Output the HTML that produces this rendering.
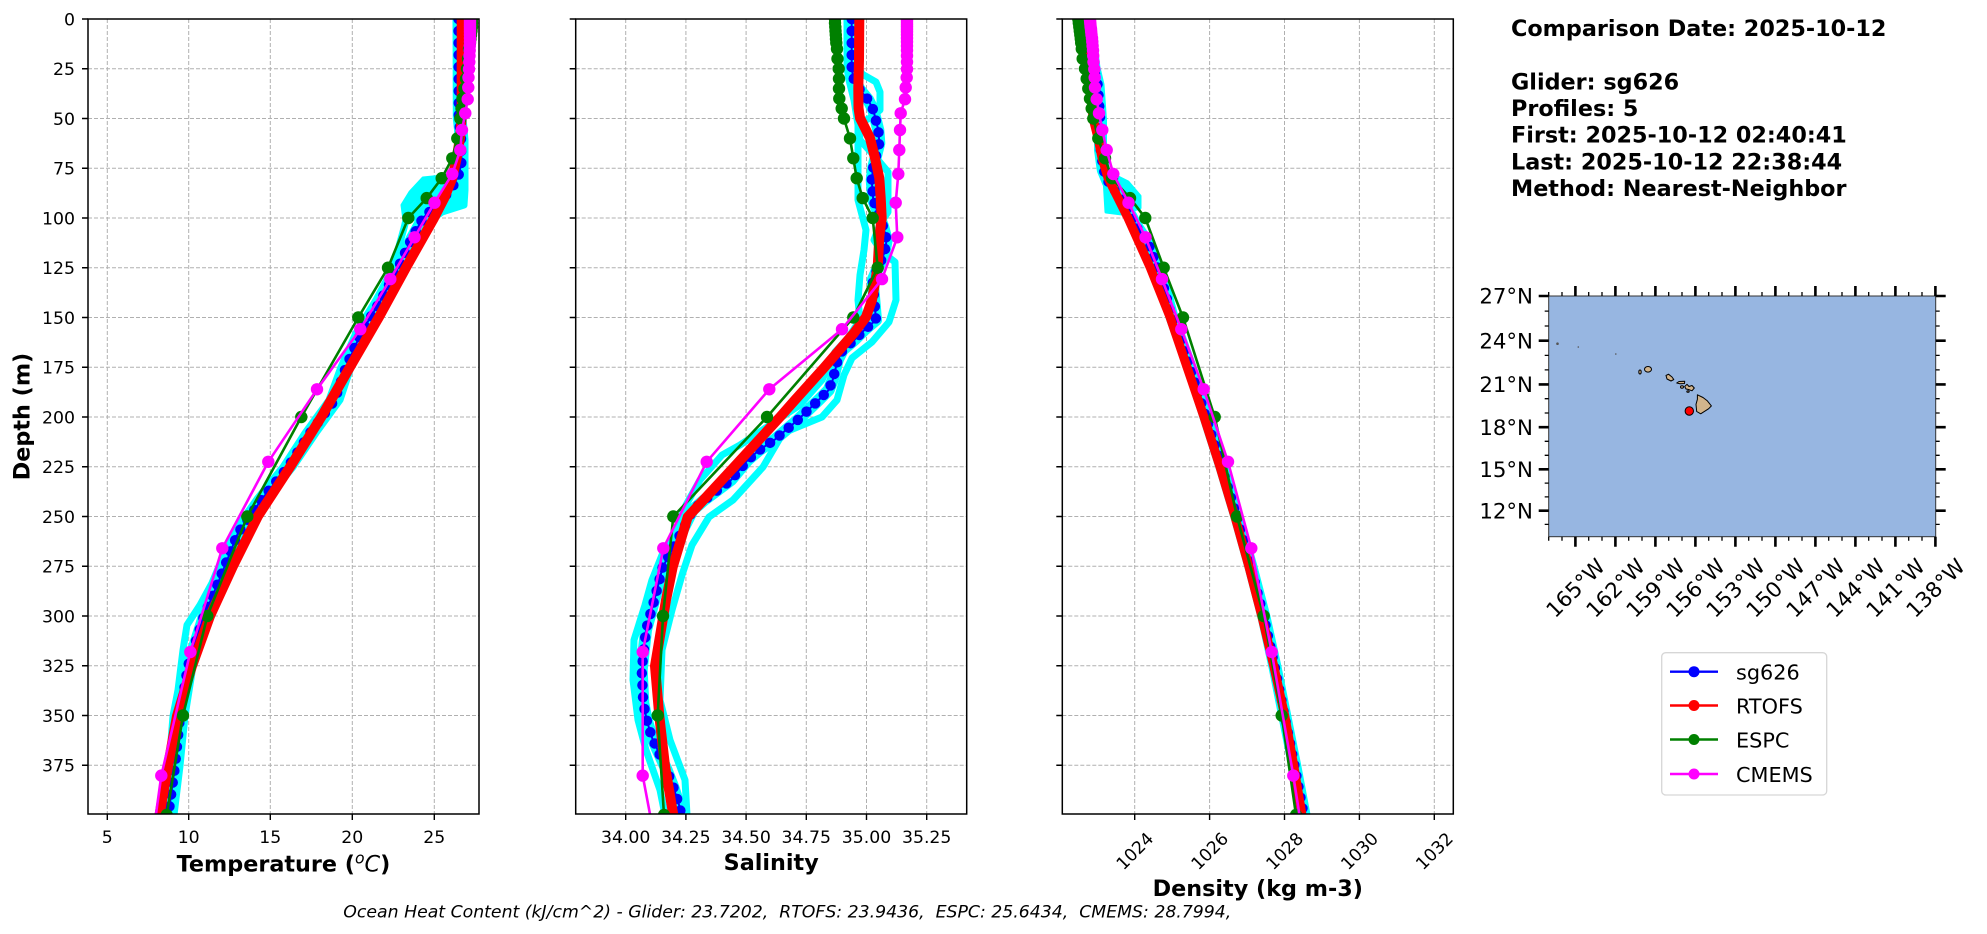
<!DOCTYPE html>
<html><head><meta charset="utf-8"><style>html,body{margin:0;padding:0;background:#fff}svg{display:block}</style></head>
<body>
<svg width="1987" height="934" viewBox="0 0 1987 934" font-family="DejaVu Sans, Liberation Sans, sans-serif">
<rect x="0" y="0" width="1987" height="934" fill="#fff"/>
<defs>
<clipPath id="c1"><rect x="88" y="19" width="391" height="795"/></clipPath>
<clipPath id="c2"><rect x="575.7" y="19" width="391" height="795"/></clipPath>
<clipPath id="c3"><rect x="1062.3" y="19" width="391" height="795"/></clipPath>
<marker id="mg" markerWidth="16" markerHeight="16" refX="8" refY="8" markerUnits="userSpaceOnUse"><circle cx="8" cy="8" r="6.2" fill="#008000"/></marker>
<marker id="mm" markerWidth="16" markerHeight="16" refX="8" refY="8" markerUnits="userSpaceOnUse"><circle cx="8" cy="8" r="6.2" fill="#ff00ff"/></marker>
<path id="hg" d="M0 68.75H391M0 118.5H391M0 168.25H391M0 218H391M0 267.75H391M0 317.5H391M0 367.25H391M0 417H391M0 466.75H391M0 516.5H391M0 566.25H391M0 616H391M0 665.75H391M0 715.5H391M0 765.25H391" stroke="#b0b0b0" stroke-width="1" stroke-dasharray="4,2" fill="none"/>
<path id="yt" d="M0 19H-6M0 68.75H-6M0 118.5H-6M0 168.25H-6M0 218H-6M0 267.75H-6M0 317.5H-6M0 367.25H-6M0 417H-6M0 466.75H-6M0 516.5H-6M0 566.25H-6M0 616H-6M0 665.75H-6M0 715.5H-6M0 765.25H-6" stroke="#000" stroke-width="1.4" fill="none"/>
</defs>

<!-- ===== Panel 1: Temperature ===== -->
<use href="#hg" x="88"/>
<path d="M107.3 19V814M188.7 19V814M270.3 19V814M352.3 19V814M434.3 19V814" stroke="#b0b0b0" stroke-width="1" stroke-dasharray="4,2" fill="none"/>
<g clip-path="url(#c1)" fill="none" stroke-linecap="round" stroke-linejoin="round">
<polygon points="423,178 462,174 466,178 466,205 446,211 436,218 404,220 402,205 410,192" fill="#00ffff" stroke="#00ffff" stroke-width="3"/>
<polyline points="458.5,19 458.8,118.5 461,138.4 461.5,162 459,174 452,188 440,202 423,218 412,238 398,268 381,300 361,333 346,367 334.7,400 310,433 288,467 262,499 238,533 218,583 204,616 188,666 180,716 175,766 168.3,815" stroke="#00ffff" stroke-width="12"/>
<polyline points="463,19 463,118 465,140 465,165 465,190 464,205 442,212 428,222 417,238 403,268 386,300 366,333 351,367 340,400 316,433 293,467 267,499 243,533 223,583 209,616 193,666 185,716 180,766 174,815" stroke="#00ffff" stroke-width="7"/>
<polyline points="457,19 457,118 458,140 457,160 450,176 436,190 420,200 408,212 404,228 393,268 376,300 356,333 341,367 329,400 305,433 283,467 257,499 233,533 212,583 200,605 187,625 183,650 178,690 173,716 169,766 163,815" stroke="#00ffff" stroke-width="7"/>
<polyline points="458.5,19 458.8,118.5 461,138.4 461.5,162 459,174 452,188 440,202 423,218 412,238 398,268 381,300 361,333 346,367 334.7,400 310,433 288,467 262,499 238,533 218,583 204,616 188,666 180,716 175,766 168.3,815" stroke="#0000ff" stroke-width="2"/>
<polyline points="458.5,19 458.8,118.5 461,138.4 461.5,162 459,174 452,188 440,202 423,218 412,238 398,268 381,300 361,333 346,367 334.7,400 310,433 288,467 262,499 238,533 218,583 204,616 188,666 180,716 175,766 168.3,815" stroke="#0000ff" stroke-width="10.5" stroke-dasharray="0 12"/>
<polyline points="461.7,19 461.7,118 460,138 456.7,158 452.3,178 444.3,198 434,218 406.3,267 379,317 350,367 321.3,417 290,467 258,516 233,566 210,616 192,666 177,716 168,766 159.5,815" stroke="#ff0000" stroke-width="10"/>
<polyline points="472,19 472,23 472,26.96 471.5,30.94 471,34.92 470.5,38.9 470,42.88 469,48.85 468,58.8 467,68.75 466,78.7 464.5,88.65 462.5,98.6 461.5,108.55 460.3,118.5 457.3,138.4 452.3,158.3 441.7,178.2 426.7,198.1 408.3,218 388,267.75 358.3,317.5 301.3,417 247.3,516.5 207.3,616 183,715.5 166.7,815" stroke="#008000" stroke-width="2.6" marker-start="url(#mg)" marker-mid="url(#mg)" marker-end="url(#mg)"/>
<polyline points="470,20 470,22 470,24.2 470,26.6 470,29.1 470,31.7 470,34.7 470,38.1 470,41.7 469.8,45.9 469.7,50.4 469.5,55.8 469.3,62 469,69.1 468.5,77.5 468.3,87.5 467.7,99.2 465.3,113.3 462,130 460.3,150 452.3,174 434.5,202.7 414.5,237.3 390.3,279.1 360.3,329.2 317,389.3 268.3,461.8 222.3,548.3 190.3,652 161.3,775.6 153.8,830" stroke="#ff00ff" stroke-width="2.6" marker-start="url(#mm)" marker-mid="url(#mm)" marker-end="url(#mm)"/>
</g>
<rect x="88" y="19" width="391" height="795" fill="none" stroke="#000" stroke-width="1.5"/>
<use href="#yt" x="88"/>
<path d="M107.3 814V820M188.7 814V820M270.3 814V820M352.3 814V820M434.3 814V820" stroke="#000" stroke-width="1.4"/>
<g font-size="17.3" text-anchor="end">
<text x="75" y="25.3">0</text><text x="75" y="75">25</text><text x="75" y="124.8">50</text><text x="75" y="174.5">75</text><text x="75" y="224.3">100</text><text x="75" y="274">125</text><text x="75" y="323.8">150</text><text x="75" y="373.5">175</text><text x="75" y="423.3">200</text><text x="75" y="473">225</text><text x="75" y="522.8">250</text><text x="75" y="572.5">275</text><text x="75" y="622.3">300</text><text x="75" y="672">325</text><text x="75" y="721.8">350</text><text x="75" y="771.5">375</text>
</g>
<g font-size="17.3" text-anchor="middle">
<text x="107.3" y="843">5</text><text x="188.7" y="843">10</text><text x="270.3" y="843">15</text><text x="352.3" y="843">20</text><text x="434.3" y="843">25</text>
</g>
<text x="283.5" y="871.7" text-anchor="middle" font-weight="bold" font-size="22.3">Temperature (<tspan font-weight="normal" font-style="italic" font-size="15.6" dy="-8">o</tspan><tspan font-weight="normal" font-style="italic" font-size="22.3" dy="8">C</tspan>)</text>
<text transform="translate(29.5,416.5) rotate(-90)" text-anchor="middle" font-weight="bold" font-size="22.3">Depth (m)</text>

<!-- ===== Panel 2: Salinity ===== -->
<use href="#hg" x="575.7"/>
<path d="M625.7 19V814M685.9 19V814M746.1 19V814M806.3 19V814M866.5 19V814M926.7 19V814" stroke="#b0b0b0" stroke-width="1" stroke-dasharray="4,2" fill="none"/>
<g clip-path="url(#c2)" fill="none" stroke-linecap="round" stroke-linejoin="round">
<polyline points="851.7,19 851.7,68 853.3,78 860,90 868.3,100 873.3,110 878.3,130 879.3,143 873.3,167 871.7,180 873.3,200 883.3,227 886.7,240 884.3,253 872.7,280 874.3,300 876,320 864.3,330 854.3,340 842.7,350 837.7,360 832.7,380 828.7,390 818.7,400 797.7,420 774.3,440 759.3,450 747.7,460 739.3,470 731,480 717.7,490 704.3,500 692.7,510 682.7,530 672,550 662.7,567 654.3,600 646,630 641.7,670 643.3,703 646.7,720 651.7,737 666.7,770 673.3,787 680,808 681,815" stroke="#00ffff" stroke-width="12"/>
<polyline points="858,19 858,66 862,74 876,82 880,92 880,110 870,118 858,124 860,140 878,160 888,172 888,212 880,224 874,240 882,252 895,262 896,300 889,322 872,342 852,358 844,375 837,400 822,417 783,433 763,467 733,500 709,517 692,545 682,575 672,610 662,650 660,700 670,740 685,780 687,815" stroke="#00ffff" stroke-width="7"/>
<polyline points="847,19 847,68 849,80 854,100 858,125 858,160 858,200 866,230 864,250 860,275 858,300 860,320 848,338 835,352 822,380 800,405 770,425 740,445 722,455 700,480 686,505 676,530 662,555 652,580 645,605 634,640 633,680 638,720 646,750 660,790 665,815" stroke="#00ffff" stroke-width="7"/>
<polyline points="851.7,19 851.7,68 853.3,78 860,90 868.3,100 873.3,110 878.3,130 879.3,143 873.3,167 871.7,180 873.3,200 883.3,227 886.7,240 884.3,253 872.7,280 874.3,300 876,320 864.3,330 854.3,340 842.7,350 837.7,360 832.7,380 828.7,390 818.7,400 797.7,420 774.3,440 759.3,450 747.7,460 739.3,470 731,480 717.7,490 704.3,500 692.7,510 682.7,530 672,550 662.7,567 654.3,600 646,630 641.7,670 643.3,703 646.7,720 651.7,737 666.7,770 673.3,787 680,808 681,815" stroke="#0000ff" stroke-width="2"/>
<polyline points="851.7,19 851.7,68 853.3,78 860,90 868.3,100 873.3,110 878.3,130 879.3,143 873.3,167 871.7,180 873.3,200 883.3,227 886.7,240 884.3,253 872.7,280 874.3,300 876,320 864.3,330 854.3,340 842.7,350 837.7,360 832.7,380 828.7,390 818.7,400 797.7,420 774.3,440 759.3,450 747.7,460 739.3,470 731,480 717.7,490 704.3,500 692.7,510 682.7,530 672,550 662.7,567 654.3,600 646,630 641.7,670 643.3,703 646.7,720 651.7,737 666.7,770 673.3,787 680,808 681,815" stroke="#0000ff" stroke-width="10.5" stroke-dasharray="0 12"/>
<polyline points="859.3,19 859,60 858.3,88 858.5,108 860,118 865,128 870,138 875,158 879.3,178 880.7,198 881.7,218 879.3,237 877.7,267 872,300 866,317 854,333 824.7,367 795,400 780,417 734,467 687.7,517 672.7,567 666,600 655,666 659.3,716 665,766 673.3,815" stroke="#ff0000" stroke-width="10"/>
<polyline points="835,19 835,23 835.3,26.96 835.5,30.94 835.8,34.92 836,38.9 836.3,42.88 837,48.85 837.5,58.8 838.7,68.75 839,78.7 839,88.65 839.3,98.6 841.7,108.55 844,118.5 850,138.4 853.3,158.3 856.7,178.2 862.7,198.1 872.7,218 877.7,267.75 853.3,317.5 767,417 673.3,516.5 663,616 657.7,715.5 664,815" stroke="#008000" stroke-width="2.6" marker-start="url(#mg)" marker-mid="url(#mg)" marker-end="url(#mg)"/>
<polyline points="907,20 907,22 907,24.2 907,26.6 907,29.1 907,31.7 907,34.7 907,38.1 907,41.7 907,45.9 907,50.4 907,55.8 907,62 907,69.1 906.7,77.5 905.7,87.5 905,99.2 900.7,113.3 900,130 899.3,150 898.3,174 895.7,202.7 897.3,237.3 882,279.1 842,329.2 769.3,389.3 706.7,461.8 663.3,548.3 642.7,652 642.7,775.6 653,830" stroke="#ff00ff" stroke-width="2.6" marker-start="url(#mm)" marker-mid="url(#mm)" marker-end="url(#mm)"/>
</g>
<rect x="575.7" y="19" width="391" height="795" fill="none" stroke="#000" stroke-width="1.5"/>
<use href="#yt" x="575.7"/>
<path d="M625.7 814V820M685.9 814V820M746.1 814V820M806.3 814V820M866.5 814V820M926.7 814V820" stroke="#000" stroke-width="1.4"/>
<g font-size="17.3" text-anchor="middle">
<text x="625.7" y="843">34.00</text><text x="685.9" y="843">34.25</text><text x="746.1" y="843">34.50</text><text x="806.3" y="843">34.75</text><text x="866.5" y="843">35.00</text><text x="926.7" y="843">35.25</text>
</g>
<text x="771.2" y="870" text-anchor="middle" font-weight="bold" font-size="22.3">Salinity</text>

<!-- ===== Panel 3: Density ===== -->
<use href="#hg" x="1062.3"/>
<path d="M1134.7 19V814M1209.6 19V814M1284.5 19V814M1359.4 19V814M1434.3 19V814" stroke="#b0b0b0" stroke-width="1" stroke-dasharray="4,2" fill="none"/>
<g clip-path="url(#c3)" fill="none" stroke-linecap="round" stroke-linejoin="round">
<polygon points="1104,178 1116,176 1128,182 1140,196 1140,208 1122,214 1106,212" fill="#00ffff" stroke="#00ffff" stroke-width="3"/>
<polyline points="1088,19 1094,68 1098,85 1100.5,120 1100.5,150 1103.3,170 1108.3,182 1121.7,200 1136.7,227 1150,247 1162,280 1172,317 1190,367 1206,417 1222,467 1237,517 1251,567 1264,617 1275,667 1285,717 1295,767 1304,815" stroke="#00ffff" stroke-width="13"/>
<polyline points="1088,19 1094,68 1098,85 1100.5,120 1100.5,150 1103.3,170 1108.3,182 1121.7,200 1136.7,227 1150,247 1162,280 1172,317 1190,367 1206,417 1222,467 1237,517 1251,567 1264,617 1275,667 1285,717 1295,767 1304,815" stroke="#0000ff" stroke-width="2"/>
<polyline points="1088,19 1094,68 1098,85 1100.5,120 1100.5,150 1103.3,170 1108.3,182 1121.7,200 1136.7,227 1150,247 1162,280 1172,317 1190,367 1206,417 1222,467 1237,517 1251,567 1264,617 1275,667 1285,717 1295,767 1304,815" stroke="#0000ff" stroke-width="10" stroke-dasharray="0 11"/>
<polyline points="1084,19 1088,68 1093,118 1098,138 1102,158 1108,178 1118,198 1128,218 1150,267 1170,317 1187,367 1204,417 1220,467 1235,517 1249,567 1262,617 1274,667 1285,717 1294,767 1302,815" stroke="#ff0000" stroke-width="9"/>
<polyline points="1078.3,19 1078.8,23 1079.3,26.96 1079.8,30.94 1080.3,34.92 1080.8,38.9 1081.2,42.88 1081.8,48.85 1082.7,58.8 1085,68.75 1086.7,78.7 1088.3,88.65 1090,98.6 1091.7,108.55 1093.3,118.5 1098.3,138.4 1105,158.3 1112,178.2 1130,198.1 1145.3,218 1163.7,267.75 1183,317.5 1214.7,417 1237,516.5 1263.7,616 1281.7,715.5 1296,815" stroke="#008000" stroke-width="2.6" marker-start="url(#mg)" marker-mid="url(#mg)" marker-end="url(#mg)"/>
<polyline points="1090,20 1090.2,22 1090.4,24.2 1090.6,26.6 1091,29.1 1091.2,31.7 1091.5,34.7 1092,38.1 1092.3,41.7 1092.6,45.9 1093,50.4 1093.2,55.8 1093.5,62 1094.3,69.1 1094.7,77.5 1095,87.5 1096.7,99.2 1099,113.3 1102.3,130 1106.7,150 1113.3,174 1128.5,202.7 1145.5,237.3 1162,279.1 1181.3,329.2 1203.7,389.3 1228,461.8 1251.3,548.3 1271.7,652 1293.3,775.6 1301.8,830" stroke="#ff00ff" stroke-width="2.6" marker-start="url(#mm)" marker-mid="url(#mm)" marker-end="url(#mm)"/>
</g>
<rect x="1062.3" y="19" width="391" height="795" fill="none" stroke="#000" stroke-width="1.5"/>
<use href="#yt" x="1062.3"/>
<path d="M1134.7 814V820M1209.6 814V820M1284.5 814V820M1359.4 814V820M1434.3 814V820" stroke="#000" stroke-width="1.4"/>
<g font-size="17.3" text-anchor="middle">
<text transform="translate(1134.7,851) rotate(-45)" dy="0.35em">1024</text>
<text transform="translate(1209.6,851) rotate(-45)" dy="0.35em">1026</text>
<text transform="translate(1284.5,851) rotate(-45)" dy="0.35em">1028</text>
<text transform="translate(1359.4,851) rotate(-45)" dy="0.35em">1030</text>
<text transform="translate(1434.3,851) rotate(-45)" dy="0.35em">1032</text>
</g>
<text x="1257.8" y="896" text-anchor="middle" font-weight="bold" font-size="22.3">Density (kg m-3)</text>

<!-- OHC text -->
<text x="343.3" y="917.5" font-style="italic" font-size="17.3" xml:space="preserve" style="white-space:pre" textLength="888" lengthAdjust="spacingAndGlyphs">Ocean Heat Content (kJ/cm^2) - Glider: 23.7202,  RTOFS: 23.9436,  ESPC: 25.6434,  CMEMS: 28.7994,</text>

<!-- Info text -->
<g font-weight="bold" font-size="22.3">
<text x="1511" y="36">Comparison Date: 2025-10-12</text>
<text x="1511" y="89.3">Glider: sg626</text>
<text x="1511" y="116">Profiles: 5</text>
<text x="1511" y="142.7">First: 2025-10-12 02:40:41</text>
<text x="1511" y="169.3">Last: 2025-10-12 22:38:44</text>
<text x="1511" y="196">Method: Nearest-Neighbor</text>
</g>

<!-- Map -->
<rect x="1548.7" y="296" width="387" height="240.7" fill="#97b6e1"/>
<g fill="#d2b48c" stroke="#000" stroke-width="1" stroke-linejoin="round">
<polygon points="1697.4,394.8 1703,397.5 1707.4,400.9 1711.4,405.9 1708.7,408.7 1700.7,413.8 1696.7,411.5 1696,404.4 1697.4,399.2"/>
<polygon points="1684.7,386.5 1687,384.3 1689,386.5 1692,385.5 1694.3,388 1692,390.8 1688.5,389.5 1686,389"/>
<polygon points="1676.7,383 1679,381.5 1684.7,381.3 1684.5,383.5 1680,383.7"/>
<ellipse cx="1682" cy="387" rx="1.5" ry="1.2"/>
<ellipse cx="1688" cy="391.5" rx="1.2" ry="0.8"/>
<polygon points="1666,375.5 1668.5,374.2 1672,377 1673.8,379.5 1671,381 1667,379"/>
<ellipse cx="1648" cy="369.3" rx="3.5" ry="2.8"/>
<ellipse cx="1640" cy="372" rx="1.2" ry="2"/>
</g>
<circle cx="1557.5" cy="343.7" r="1.3" fill="#555"/>
<circle cx="1578.3" cy="347" r="0.8" fill="#555"/>
<circle cx="1615.8" cy="354" r="0.8" fill="#555"/>
<circle cx="1689.3" cy="411" r="4.2" fill="#ff0000" stroke="#000" stroke-width="1"/>
<rect x="1548.7" y="296" width="387" height="240.7" fill="none" stroke="#333" stroke-width="1"/>
<path d="M1575.4 296V286M1615.4 296V286M1655.4 296V286M1695.4 296V286M1735.4 296V286M1775.4 296V286M1815.4 296V286M1855.4 296V286M1895.4 296V286M1935.4 296V286
M1575.4 536.7V546.7M1615.4 536.7V546.7M1655.4 536.7V546.7M1695.4 536.7V546.7M1735.4 536.7V546.7M1775.4 536.7V546.7M1815.4 536.7V546.7M1855.4 536.7V546.7M1895.4 536.7V546.7M1935.4 536.7V546.7
M1548.7 296H1538.7M1548.7 340.7H1538.7M1548.7 384.4H1538.7M1548.7 427.2H1538.7M1548.7 469.3H1538.7M1548.7 510.7H1538.7
M1935.7 296H1945.7M1935.7 340.7H1945.7M1935.7 384.4H1945.7M1935.7 427.2H1945.7M1935.7 469.3H1945.7M1935.7 510.7H1945.7" stroke="#000" stroke-width="2.6" fill="none"/>
<path d="M1548.7 296V292M1562 296V292M1588.7 296V292M1602 296V292M1628.7 296V292M1642 296V292M1668.7 296V292M1682 296V292M1708.7 296V292M1722 296V292M1748.7 296V292M1762 296V292M1788.7 296V292M1802 296V292M1828.7 296V292M1842 296V292M1868.7 296V292M1882 296V292M1908.7 296V292M1922 296V292
M1548.7 536.7V540.7M1562 536.7V540.7M1588.7 536.7V540.7M1602 536.7V540.7M1628.7 536.7V540.7M1642 536.7V540.7M1668.7 536.7V540.7M1682 536.7V540.7M1708.7 536.7V540.7M1722 536.7V540.7M1748.7 536.7V540.7M1762 536.7V540.7M1788.7 536.7V540.7M1802 536.7V540.7M1828.7 536.7V540.7M1842 536.7V540.7M1868.7 536.7V540.7M1882 536.7V540.7M1908.7 536.7V540.7M1922 536.7V540.7
M1548.7 311.1H1544.7M1548.7 326H1544.7M1548.7 355.4H1544.7M1548.7 369.9H1544.7M1548.7 398.7H1544.7M1548.7 413H1544.7M1548.7 441.3H1544.7M1548.7 455.3H1544.7M1548.7 483.1H1544.7M1548.7 496.9H1544.7M1548.7 524.4H1544.7
M1935.7 311.1H1939.7M1935.7 326H1939.7M1935.7 355.4H1939.7M1935.7 369.9H1939.7M1935.7 398.7H1939.7M1935.7 413H1939.7M1935.7 441.3H1939.7M1935.7 455.3H1939.7M1935.7 483.1H1939.7M1935.7 496.9H1939.7M1935.7 524.4H1939.7" stroke="#000" stroke-width="1.3" fill="none"/>
<g font-size="21.3" text-anchor="end">
<text x="1533" y="303.7">27°N</text><text x="1533" y="348.4">24°N</text><text x="1533" y="392.1">21°N</text><text x="1533" y="434.9">18°N</text><text x="1533" y="477">15°N</text><text x="1533" y="518.4">12°N</text>
</g>
<g font-size="21.3" text-anchor="middle">
<text transform="translate(1575.4,588) rotate(-45)" dy="0.35em">165°W</text>
<text transform="translate(1615.4,588) rotate(-45)" dy="0.35em">162°W</text>
<text transform="translate(1655.4,588) rotate(-45)" dy="0.35em">159°W</text>
<text transform="translate(1695.4,588) rotate(-45)" dy="0.35em">156°W</text>
<text transform="translate(1735.4,588) rotate(-45)" dy="0.35em">153°W</text>
<text transform="translate(1775.4,588) rotate(-45)" dy="0.35em">150°W</text>
<text transform="translate(1815.4,588) rotate(-45)" dy="0.35em">147°W</text>
<text transform="translate(1855.4,588) rotate(-45)" dy="0.35em">144°W</text>
<text transform="translate(1895.4,588) rotate(-45)" dy="0.35em">141°W</text>
<text transform="translate(1935.4,588) rotate(-45)" dy="0.35em">138°W</text>
</g>

<!-- Legend -->
<rect x="1661.7" y="652.7" width="165" height="142.3" rx="4" ry="4" fill="#fff" stroke="#d6d6d6" stroke-width="1.3"/>
<g stroke-width="2.4">
<line x1="1670" y1="671.7" x2="1718" y2="671.7" stroke="#0000ff"/><circle cx="1694" cy="671.7" r="5.5" fill="#0000ff"/>
<line x1="1670" y1="705.5" x2="1718" y2="705.5" stroke="#ff0000"/><circle cx="1694" cy="705.5" r="5.5" fill="#ff0000"/>
<line x1="1670" y1="739.5" x2="1718" y2="739.5" stroke="#008000"/><circle cx="1694" cy="739.5" r="5.5" fill="#008000"/>
<line x1="1670" y1="774" x2="1718" y2="774" stroke="#ff00ff"/><circle cx="1694" cy="774" r="5.5" fill="#ff00ff"/>
</g>
<g font-size="20.8">
<text x="1736" y="679.7">sg626</text>
<text x="1736" y="713.5">RTOFS</text>
<text x="1736" y="747.5">ESPC</text>
<text x="1736" y="782">CMEMS</text>
</g>
</svg>
</body></html>
